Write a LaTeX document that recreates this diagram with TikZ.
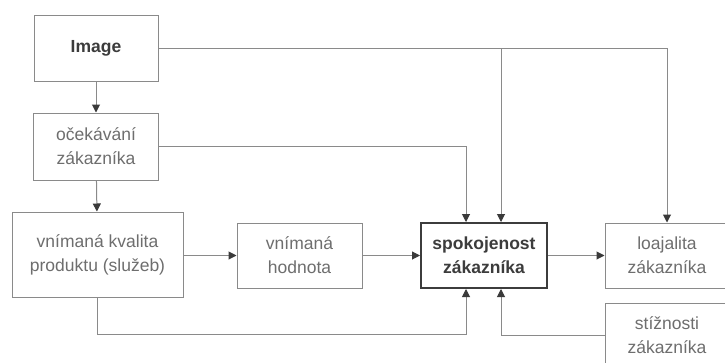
\documentclass[tikz,border=0pt]{standalone}
\usepackage{fontspec}
\setmainfont{Liberation Sans}
\usetikzlibrary{arrows.meta,calc}
\definecolor{txt}{HTML}{6E6E6E}
\definecolor{dtxt}{HTML}{3C3C3C}
\definecolor{ln}{HTML}{8A8A8A}
\definecolor{arrc}{HTML}{3A3A3A}
\tikzset{
  box/.style={draw=ln, line width=1pt, inner sep=0pt, align=center, text=txt,
    font=\fontsize{17.5}{24}\selectfont},
  mainbox/.style={box, draw=dtxt, line width=2pt, text=dtxt, font=\fontsize{17.5}{24}\selectfont\bfseries},
  conn/.style={draw=ln, line width=1pt},
  arr/.style={conn, -{Triangle[length=8pt,width=8pt,color=arrc]}},
}
\begin{document}
\begin{tikzpicture}[x=1pt,y=-1pt]
\useasboundingbox (0,0) rectangle (725,362);
\clip (0,0) rectangle (725,362);
\fill[white] (0,0) rectangle (725,362);
\node[box, minimum width=124pt, minimum height=66pt, font=\fontsize{17.5}{24}\selectfont\bfseries, text=dtxt] (img) at (96,48) {Image};
\node[box, minimum width=125pt, minimum height=67pt] (ocek) at (96,146.5) {očekávání\\zákazníka};
\node[box, minimum width=171pt, minimum height=85pt] (kval) at (97.5,254.5) {vnímaná kvalita\\produktu (služeb)};
\node[box, minimum width=125pt, minimum height=65pt] (hod) at (299.5,255.5) {vnímaná\\hodnota};
\node[mainbox, minimum width=126pt, minimum height=65pt] (spok) at (484,255.5) {spokojenost\\zákazníka};
\node[box, minimum width=124pt, minimum height=65pt] (loaj) at (667,255.5) {loajalita\\zákazníka};
\node[box, minimum width=124pt, minimum height=64pt] (stiz) at (667,335) {stížnosti\\zákazníka};
\coordinate (xa) at (466,0);
\coordinate (xb) at (501,0);
\coordinate (yk) at (0,334);
\draw[arr] (img) -- (ocek);
\draw[arr] (ocek) -- (kval);
\draw[arr] (kval.east |- hod.west) -- (hod.west);
\draw[arr] (hod) -- (spok);
\draw[arr] (spok) -- (loaj);
\draw[arr] (img.east) -| (loaj.north);
\draw[arr] (img.east -| xb) -- (spok.north -| xb);
\draw[arr] (ocek.east) -| (spok.north -| xa);
\draw[arr] (kval.south) -- (kval.south |- yk) -| (spok.south -| xa);
\draw[arr] (stiz.west) -| (spok.south -| xb);
\end{tikzpicture}
\end{document}
